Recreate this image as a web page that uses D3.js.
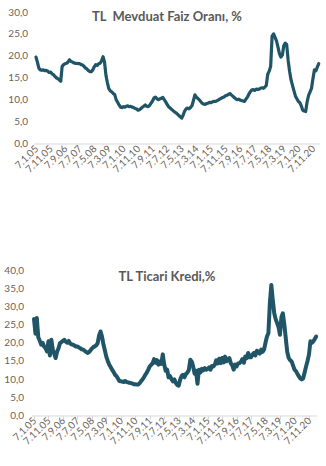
<!DOCTYPE html>
<html><head><meta charset="utf-8">
<script src="https://cdn.jsdelivr.net/npm/d3@7"></script>
<style>
html,body{margin:0;padding:0;background:#fff;}
svg{display:block;}
text{font-family:Lato,"Open Sans",sans-serif;}
.title{white-space:pre;}
</style></head>
<body>
<svg id="c" width="326" height="466"></svg>
<script>
// ---- data ----
const startDate = "2005-01-07"; // monthly observations
const depositRate = [
19.7,18.5,17.2,16.8,16.7,16.8,16.6,16.7,16.5,16.2,16.3,15.9,15.7,15.3,15.0,14.8,14.5,14.2,17.6,18.0,
18.2,18.3,18.6,19.1,18.7,18.6,18.4,18.3,18.3,18.2,18.2,18.0,17.9,17.6,17.2,17.0,16.6,16.4,16.4,16.8,
17.5,18.0,17.8,18.2,18.3,18.9,19.8,18.6,15.5,13.8,12.5,12.0,11.8,11.4,11.2,10.0,9.4,8.8,8.3,8.2,
8.4,8.3,8.5,8.6,8.4,8.5,8.3,8.2,8.0,7.9,7.6,7.7,8.0,8.3,8.5,8.8,8.5,8.4,8.7,9.2,
9.7,10.4,10.6,10.2,10.0,10.2,10.3,10.5,10.0,9.5,8.9,8.4,8.1,7.8,7.5,7.2,7.0,6.7,6.4,6.1,
5.8,6.5,7.4,7.9,8.1,7.9,8.2,8.6,9.8,11.1,10.6,10.3,10.0,9.6,9.2,9.0,8.9,9.1,9.2,9.4,
9.3,9.5,9.6,9.6,9.7,9.9,10.1,10.3,10.5,10.6,10.9,11.0,11.2,11.4,11.1,10.8,10.5,10.2,10.0,10.1,
9.9,9.8,9.7,9.6,10.1,10.6,11.2,11.8,12.2,12.3,12.1,12.4,12.3,12.4,12.6,12.7,12.6,12.9,13.2,15.8,
16.5,17.6,24.5,25.0,24.2,23.4,22.0,20.5,19.7,20.2,22.3,22.9,22.6,19.0,16.5,14.5,13.2,12.0,10.8,10.2,
9.6,9.3,8.6,7.6,7.4,7.3,9.5,11.0,11.8,12.6,14.9,16.8,16.6,17.5,18.2
];
const loanRate = [
26.5,22.5,26.8,21.5,20.6,19.5,20.0,19.0,18.5,17.6,20.4,16.5,20.8,18.0,17.0,15.8,17.5,18.5,19.9,20.2,
20.5,20.8,20.3,20.0,20.5,19.8,19.5,19.5,19.2,19.0,19.0,18.7,18.5,18.2,18.1,17.8,17.5,17.2,17.4,17.9,
18.4,18.8,19.0,19.3,19.9,22.0,23.1,21.7,19.5,17.8,16.2,15.0,14.0,13.3,12.6,12.0,11.2,10.8,10.2,9.5,
9.4,9.3,9.2,9.5,9.2,9.1,9.0,8.9,8.8,8.6,8.6,8.5,8.5,8.9,9.4,9.9,10.5,11.2,11.8,12.6,
13.5,13.9,14.4,15.5,14.5,15.2,14.0,14.8,14.2,16.8,14.0,12.3,12.6,10.5,10.8,10.0,9.4,9.9,9.0,8.4,
8.2,9.8,10.8,11.2,10.5,11.4,11.8,12.5,15.3,14.8,13.5,11.5,12.3,8.7,12.6,11.8,12.8,12.4,13.0,12.6,
12.8,13.2,12.6,13.6,13.5,14.0,15.2,14.3,15.6,14.4,15.8,14.6,16.2,14.9,15.3,15.8,14.4,13.8,12.6,14.0,
13.5,14.3,14.4,14.8,15.5,14.5,16.2,15.8,17.2,16.0,16.0,16.8,17.2,16.5,17.8,17.6,17.0,18.1,17.5,18.1,
20.0,21.7,22.6,30.9,35.9,31.8,28.1,26.5,25.4,24.2,22.2,27.0,28.1,25.0,21.3,17.5,15.8,15.2,14.9,13.8,
12.6,12.2,11.5,10.8,10.2,9.9,10.2,11.8,13.5,15.0,16.8,20.4,20.0,20.4,21.0,21.7
];
const tickLabels = ["7.1.05","7.11.05","7.9.06","7.7.07","7.5.08","7.3.09","7.1.10","7.11.10","7.9.11","7.7.12",
"7.5.13","7.3.14","7.1.15","7.11.15","7.9.16","7.7.17","7.5.18","7.3.19","7.1.20","7.11.20"];
const titles = ["TL  Mevduat Faiz Oranı, %", "TL Ticari Kredi,%"];
const yTicksTop = [0,5,10,15,20,25,30];
const yTicksBottom = [0,5,10,15,20,25,30,35,40];

// ---- drawing ----
const svg = d3.select("#c");
const parse = d3.timeParse("%d.%m.%y");
const tickDates = tickLabels.map(parse);
const t0 = d3.timeParse("%Y-%m-%d")(startDate);
const fmtY = v => d3.format(".1f")(v).replace(".", ",");
const lineColor = "#1f5566";
const txtColor = "#6b6157";

function chart(opts){
  const {values, yTicks, yMax, x0, x1, yTop, yBottom, title, titleY, labelRight, tickMarks, strokeW} = opts;
  const dates = values.map((v,i)=>d3.timeMonth.offset(t0,i));
  const x = d3.scaleTime().domain([tickDates[0], tickDates[tickDates.length-1]]).range([x0, x1]);
  const y = d3.scaleLinear().domain([0,yMax]).range([yBottom, yTop]);
  const g = svg.append("g");
  g.selectAll(".yl").data(yTicks).enter().append("text")
    .attr("x", labelRight).attr("y", d=>y(d)).attr("dy","0.35em")
    .attr("text-anchor","end").attr("font-size","10px").attr("fill",txtColor)
    .text(fmtY);
  const lastX = x(dates[dates.length-1]) + 1;
  g.append("line").attr("x1",x0-2).attr("x2",Math.max(lastX, x1+6))
    .attr("y1",yBottom+0.5).attr("y2",yBottom+0.5)
    .attr("stroke","#d9d9d9").attr("stroke-width",1);
  if(tickMarks){
    g.selectAll(".tm").data(tickDates).enter().append("line")
      .attr("x1",d=>Math.round(x(d))+0.5).attr("x2",d=>Math.round(x(d))+0.5)
      .attr("y1",yBottom).attr("y2",yBottom+4)
      .attr("stroke","#d9d9d9");
  }
  g.selectAll(".xl").data(tickDates).enter().append("text")
    .attr("transform",(d)=>`translate(${x(d)+3},${yBottom+6}) rotate(-45)`)
    .attr("text-anchor","end").attr("font-size","10px").attr("fill",txtColor)
    .text((d,i)=>tickLabels[i]);
  const line = d3.line().x((d,i)=>x(dates[i])).y(d=>y(d));
  g.append("path").datum(values).attr("d",line)
    .attr("fill","none").attr("stroke",lineColor).attr("stroke-width",strokeW)
    .attr("stroke-linejoin","round").attr("stroke-linecap","round");
  g.append("text").attr("class","title").attr("x",167).attr("y",titleY).attr("text-anchor","middle")
    .attr("font-size","13px").attr("font-weight","bold").attr("fill","#595959")
    .text(title);
}

chart({values:depositRate, yTicks:yTicksTop, yMax:30, x0:36, x1:313, yTop:12, yBottom:143.5,
  title:titles[0], titleY:21, labelRight:28, tickMarks:false, strokeW:3.2});
chart({values:loanRate, yTicks:yTicksBottom, yMax:40, x0:34, x1:309, yTop:270, yBottom:415.5,
  title:titles[1], titleY:281, labelRight:24, tickMarks:true, strokeW:4});
</script>
</body></html>
